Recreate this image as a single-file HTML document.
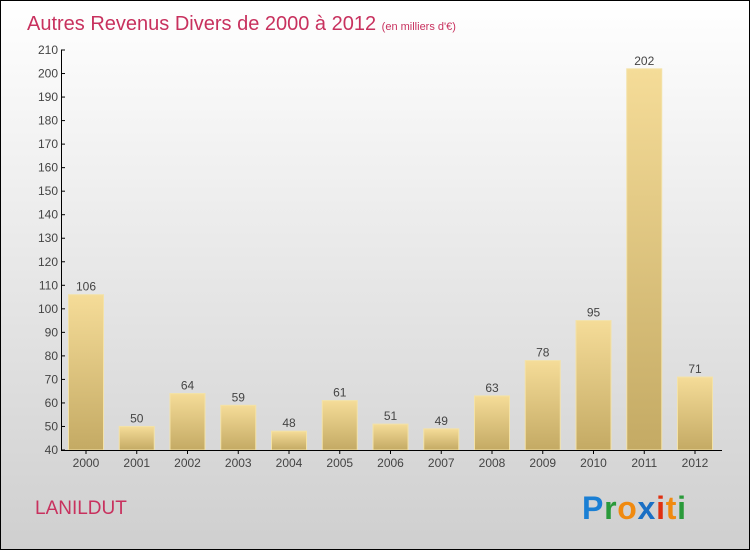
<!DOCTYPE html>
<html><head><meta charset="utf-8"><style>
body{margin:0}
#c{position:relative;width:748px;height:548px;border:1px solid #000;background:linear-gradient(#fff,#cfcfcf);overflow:hidden;font-family:"Liberation Sans",sans-serif}
</style></head><body>
<div id="c">
<svg id="s" width="748" height="548" style="position:absolute;left:0;top:0">
<defs><linearGradient id="g" x1="0" y1="0" x2="0" y2="1"><stop offset="0" stop-color="#f5dc98"/><stop offset="1" stop-color="#c4aa64"/></linearGradient></defs>
<text x="26" y="29" font-size="20" font-weight="300" fill="#c8315e">Autres Revenus Divers de 2000 à 2012 <tspan font-size="11">(en milliers d'€)</tspan></text>
<text x="34" y="513" font-size="19" fill="#c8315e">LANILDUT</text>
<g font-size="32" font-weight="bold" font-family="Liberation Sans, sans-serif">
<text x="581" y="518" textLength="104" lengthAdjust="spacing"><tspan fill="#1a7fd4">P</tspan><tspan fill="#2a9a3a">r</tspan><tspan fill="#f08a10">o</tspan><tspan fill="#1a6fc4">x</tspan><tspan fill="#e03010">i</tspan><tspan fill="#f08a10">t</tspan><tspan fill="#2a9a3a">i</tspan></text></g>
</svg>
</div>
<script>
const years=["2000","2001","2002","2003","2004","2005","2006","2007","2008","2009","2010","2011","2012"];
const values=[106,50,64,59,48,61,51,49,63,78,95,202,71];
const yTicks=[40,50,60,70,80,90,100,110,120,130,140,150,160,170,180,190,200,210];
const s=document.getElementById('s');const NS="http://www.w3.org/2000/svg";
const y=v=>449-(v-40)*400/170;const x=i=>85+i*50.75;
function mk(t,a,txt){const e=document.createElementNS(NS,t);for(const k in a)e.setAttribute(k,a[k]);if(txt!=null)e.textContent=txt;s.appendChild(e);return e;}
values.forEach((v,i)=>{
const r=mk('rect',{x:x(i)-17.5,y:y(v),width:35,height:449-y(v),fill:'url(#g)',stroke:'#f3e2a8','stroke-width':1});


const t=mk('text',{x:x(i),y:y(v)-4,'font-size':12,fill:'#444','text-anchor':'middle'},String(v));


const xl=mk('text',{x:x(i),y:466,'font-size':12,fill:'#444','text-anchor':'middle'},years[i]);


mk('line',{x1:x(i),x2:x(i),y1:449,y2:453,stroke:'#000'});
});
yTicks.forEach(v=>{
mk('line',{x1:60,x2:64,y1:y(v),y2:y(v),stroke:'#000'});
const t=mk('text',{x:57,y:y(v)+4,'font-size':12,fill:'#444','text-anchor':'end'},String(v));


});
const ya=mk('line',{x1:60.5,x2:60.5,y1:y(210),y2:450,stroke:'#000'});


const xa=mk('line',{x1:60,x2:721,y1:449.5,y2:449.5,stroke:'#000'});


</script>
</body></html>
